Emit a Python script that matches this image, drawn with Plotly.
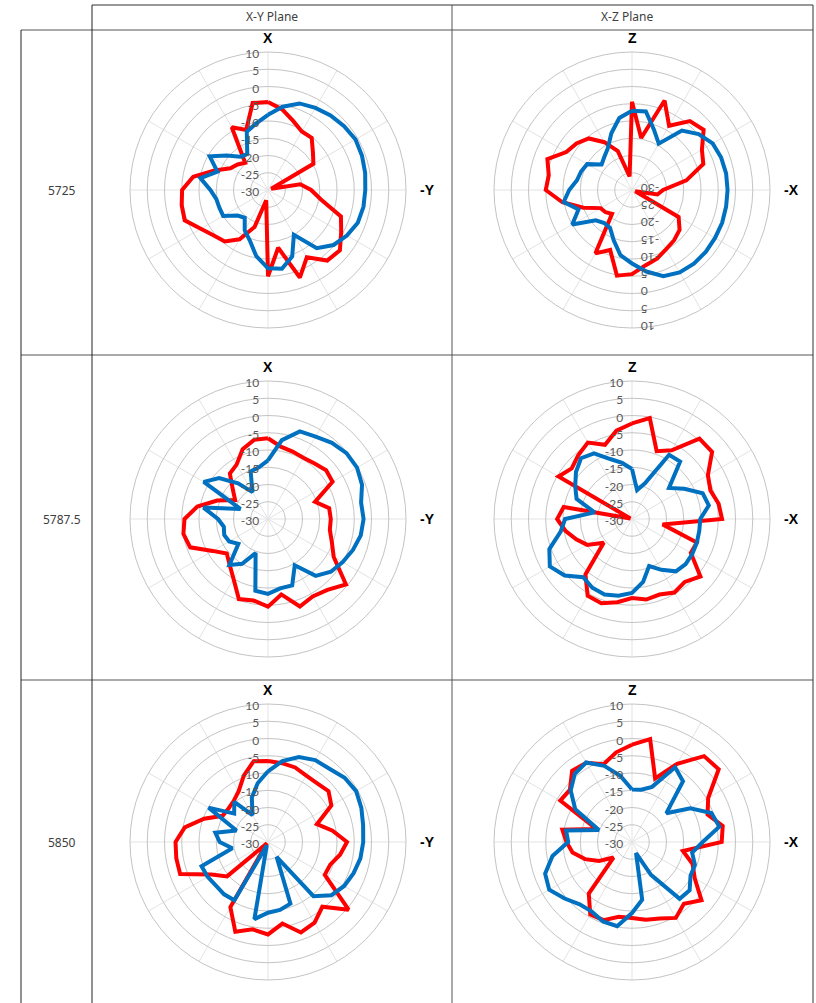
import plotly.graph_objects as go

# ---------------- data ----------------
ANGLES = [0, 10, 20, 30, 40, 50, 60, 70, 80, 90, 100, 110, 120, 130, 140, 150, 160, 170,
          180, 190, 200, 210, 220, 230, 240, 250, 260, 270, 280, 290, 300, 310, 320, 330, 340, 350]

FREQS = ["5725", "5787.5", "5850"]
PLANES = ["X-Y Plane", "X-Z Plane"]
TOP_LABELS = ["X", "Z"]
RIGHT_LABELS = ["-Y", "-X"]
R_TICKS = [-30, -25, -20, -15, -10, -5, 0, 5, 10]

xy_5725_red = [-4.5, -6.3, -8.7, -10.4, -10.3, -13, -14.8, -29, -20.5, -17.5, -14.5, -7.5, -5.5, -2.8, -3.3, -7.5, -3, -13,
               -5, -27, -18.6, -13.5, -10.5, -9.5, -7.5, -4.3, -4.6, -5.1, -8, -13.5, -17.4, -18.5, -19.7, -9, -11.5, -4.4]
xy_5725_blue = [-8.2, -5.5, -3.3, -2.5, -1.8, -1.2, -0.7, -1.0, -1.4, -1.8, -1.9, -2.3, -3.6, -5.2, -8, -15, -9.5, -6.8,
                -7.3, -10.5, -14.5, -16.5, -19.5, -18.5, -15, -15, -14.8, -13.3, -10.1, -14.4, -10.5, -14.4, -17.4, -18, -12, -10.4]

xz_5725_red = [-4.4, -14.7, -2.4, -8.5, -3.9, -2.9, -6.6, -8, -14, -21, -22.5, -29, -14.4, -12, -11, -10.2, -8.8, -7.8,
               -5.6, -4.8, -11.5, -8.8, -21, -20, -19.5, -15, -9.5, -5, -5.5, -3.9, -8, -9, -10.5, -14, -18, -26]
xz_5725_blue = [-7, -6.9, -11.4, -14.5, -7.5, -4.8, -3, -2.5, -2.3, -2.3, -2.3, -2.2, -2.2, -2.1, -2.1, -2.4, -3.4, -6,
                -8.7, -10.8, -14.5, -17.3, -17.5, -16.3, -10, -13.5, -9.9, -11.8, -13.8, -14.3, -15, -18.5, -17.5, -16, -12.5, -8.8]

xy_5787_red = [-6.6, -8.7, -9.2, -9.5, -9, -8, -8.4, -15.5, -12, -11.8, -11.8, -10.3, -8, -0.5, -3.2, -4.1, -3, -7.8,
               -4.6, -6, -5.3, -10, -12.7, -14.4, -11.5, -6, -5.1, -5.8, -9.2, -14.3, -19, -16.7, -12.8, -11.8, -8.5, -6.7]
xy_5787_blue = [-13, -6.8, -3, -2.4, -1.2, -0.3, -0.2, -1, -2.6, -2.3, -2.7, -3.8, -5, -6.2, -8.5, -14.5, -9.5, -9.6,
                -8.3, -8.9, -19.5, -15, -12.6, -18.8, -17, -16.5, -17, -15.5, -11, -21.5, -8.5, -11.5, -16.5, -21, -15.3, -14.8]

xz_5787_red = [-2.3, -0.3, -9.1, -7, 0.4, 0.3, -4.6, -5.8, -4.5, -3.9, -21, -10, -10.3, -4.1, -6.2, -5.4, -6.7, -6.3,
               -7.1, -5.5, -4, -4.3, -9, -19.3, -15, -12.8, -10.4, -8.3, -9.9, -29.5, -5.4, -7.2, -5.8, -4.4, -7.1, -4]
xz_5787_blue = [-15.5, -21.5, -19, -8.5, -8.3, -16, -12.5, -8.2, -7.4, -10.2, -10.2, -10, -9.8, -9.7, -10.2, -13, -15.5, -11.5,
                -8.6, -7.4, -6.7, -7, -8, -4.5, -2.5, -4.5, -9, -10.6, -19, -12.9, -11, -8.8, -7, -8, -11.5, -13.5]

xy_5850_red = [-6.5, -6.8, -7, -7.8, -7.8, -7.1, -8.8, -14.9, -11, -7.1, -8.8, -10.8, -11, 0.5, -5.5, -3, -2.1, -6,
               -3.2, -4.3, -2.3, -8.2, -29.5, -14.5, -11.1, -2.9, -3, -3.2, -5.5, -10.3, -14.8, -15, -14.5, -13, -9.5, -6.2]
xy_5850_blue = [-9.5, -6.2, -3.8, -2.6, -2.3, -1, -0.5, -1.2, -2, -2.4, -2.8, -3.6, -4.5, -6, -9.5, -25, -11, -10,
                -9.5, -7.3, -29, -10.5, -10.2, -10.3, -9.8, -9.5, -19.5, -16, -14.5, -20.3, -10.1, -17.2, -14.8, -21, -16.3, -12.7]

xz_5850_red = [-1.8, 0.3, -10.4, -3.8, 2.5, 2.8, -4.5, -6.7, -3.3, -4, -15, -11.3, -9, -3.7, -6.6, -4.6, -6.4, -7.1,
               -8, -8, -5.9, -5.8, -10.5, -23, -19, -15.5, -12.5, -11, -9.5, -19, -6, -6.5, -3, -3.5, -6, -3.6]
xz_5850_blue = [-14.8, -14.6, -13, -5, -7, -17, -10.5, -5.5, -4.3, -9.5, -12.3, -10.6, -10.4, -8.2, -8.5, -19, -26.6, -13,
                -9.4, -5.2, -5.5, -6.7, -6.4, -4.5, -2.3, -3.2, -6.6, -11.5, -10.6, -19.8, -11, -6.8, -4.2, -3.4, -6.5, -10.5]

SERIES = [
    [(xy_5725_red, xy_5725_blue), (xz_5725_red, xz_5725_blue)],
    [(xy_5787_red, xy_5787_blue), (xz_5787_red, xz_5787_blue)],
    [(xy_5850_red, xy_5850_blue), (xz_5850_red, xz_5850_blue)],
]

# ---------------- layout geometry (pixels) ----------------
W, H = 816, 1003
RED = "#FF0000"
BLUE = "#0070C0"
COL_CX = [268, 632]
ROW_CY = [190, 519, 842]
RADIUS = 138
ROW_LINES = [30, 355, 680]


def px_x(x):
    return x / W


def px_y(y):
    return 1 - y / H


fig = go.Figure()
layout = dict(
    width=W, height=H, margin=dict(l=0, r=0, t=0, b=0),
    paper_bgcolor="white", plot_bgcolor="white", showlegend=False,
    shapes=[], annotations=[],
)


def note(x, y, text, size, color, family, bold=False):
    layout["annotations"].append(dict(
        x=px_x(x), y=px_y(y), xref="paper", yref="paper", xanchor="center", yanchor="middle",
        text=f"<b>{text}</b>" if bold else text, showarrow=False,
        font=dict(family=family, size=size, color=color)))


k = 0
for ri in range(3):
    for ci in range(2):
        k += 1
        name = "polar" if k == 1 else f"polar{k}"
        cx, cy = COL_CX[ci], ROW_CY[ri]
        red, blue = SERIES[ri][ci]
        th = ANGLES + [ANGLES[0] + 360]
        fig.add_trace(go.Scatterpolar(r=red + [red[0]], theta=th, mode="lines",
                                      line=dict(color=RED, width=4), subplot=name))
        fig.add_trace(go.Scatterpolar(r=blue + [blue[0]], theta=th, mode="lines",
                                      line=dict(color=BLUE, width=4), subplot=name))
        rad_angle = 270 if (ri == 0 and ci == 1) else 90
        layout[name] = dict(
            domain=dict(x=[px_x(cx - RADIUS), px_x(cx + RADIUS)],
                        y=[px_y(cy + RADIUS), px_y(cy - RADIUS)]),
            bgcolor="white",
            radialaxis=dict(range=[-30, 10], tickvals=R_TICKS, ticktext=[str(v) for v in R_TICKS],
                            angle=rad_angle, side="counterclockwise", showline=False, ticks="",
                            gridcolor="#c4c4c4", gridwidth=1,
                            tickfont=dict(family="Lato", size=12, color="#595959")),
            angularaxis=dict(rotation=90, direction="clockwise", dtick=30, showticklabels=False,
                             ticks="", gridcolor="#e3e3e3", gridwidth=1,
                             linecolor="#c4c4c4", linewidth=1, showline=True),
        )
        note(cx, cy - 152, TOP_LABELS[ci], 14, "black", "Liberation Sans", bold=True)
        note(cx + 159, cy, RIGHT_LABELS[ci], 14, "black", "Liberation Sans", bold=True)


def hline(y, x0, x1, color="#555555"):
    layout["shapes"].append(dict(type="line", xref="paper", yref="paper", x0=px_x(x0), x1=px_x(x1),
                                 y0=px_y(y), y1=px_y(y), line=dict(color=color, width=1)))


def vline(x, y0, y1, color="#555555"):
    layout["shapes"].append(dict(type="line", xref="paper", yref="paper", x0=px_x(x), x1=px_x(x),
                                 y0=px_y(y0), y1=px_y(y1), line=dict(color=color, width=1)))


hline(5, 92, 813, "#333333")
for y in ROW_LINES:
    hline(y, 21, 813)
vline(21, 30, H, "#222222")
vline(92, 5, H, "#222222")
vline(452, 5, H)
vline(813, 5, H, "#333333")

for ci, pl in enumerate(PLANES):
    note([272, 627][ci], 17, pl, 12, "#404040", "Noto Sans")
for ri, f in enumerate(FREQS):
    note(62, ROW_CY[ri], f, 12, "#404040", "Noto Sans")

fig.update_layout(**layout)
fig.write_html("out.html", config={"displayModeBar": False},
               post_script="document.body.style.margin='0';document.body.style.overflow='hidden';")
